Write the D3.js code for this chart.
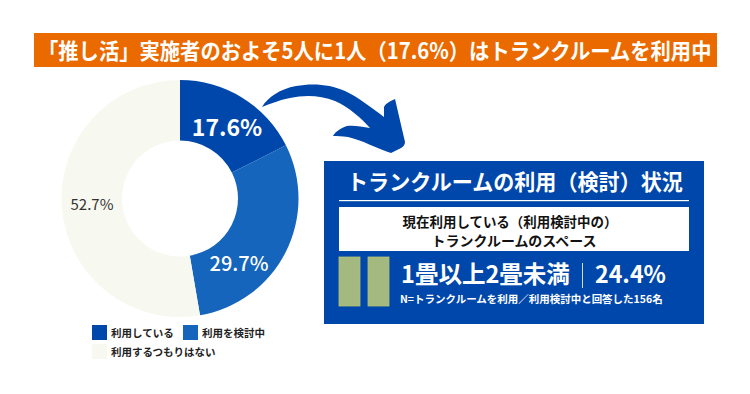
<!DOCTYPE html>
<html lang="ja"><head><meta charset="utf-8">
<script src="https://cdn.jsdelivr.net/npm/d3@7/dist/d3.min.js"></script>
<style>html,body{margin:0;padding:0;background:#fff}svg{display:block}text{font-family:"Noto Sans CJK JP","Noto Sans",sans-serif}</style>
</head><body><svg id="c" width="750" height="394"></svg>
<script>
const categories=["利用している","利用を検討中","利用するつもりはない"];
const values=[17.6,29.7,52.7];
const labels=["17.6%","29.7%","52.7%"];
const colors=["#0047ab","#1565bd","#f7f8ef"];
const titleText="「推し活」実施者のおよそ5人に1人（17.6%）はトランクルームを利用中";
const panelTitle="トランクルームの利用（検討）状況";
const boxLines=["現在利用している（利用検討中の）","トランクルームのスペース"];
const headline="1畳以上2畳未満";
const headlineValue="24.4%";
const noteText="N=トランクルームを利用／利用検討中と回答した156名";

const svg=d3.select("#c");
const blue="#0047ab";
// Text is fitted to a target width by scaling it horizontally about its anchor.
function txt(x,y,s,size,fill,weight,anchor,len){
  const t=svg.append("text").attr("font-size",size).attr("fill",fill)
    .attr("font-weight",weight).attr("text-anchor",anchor||"start").text(s);
  const k=len?len/t.node().getComputedTextLength():1;
  t.attr("transform",`translate(${x},${y}) scale(${k},1)`);
  return t;
}
svg.append("rect").attr("x",34).attr("y",33).attr("width",683).attr("height",34).attr("fill","#eb6a00");
txt(38,59,titleText,22,"#fff",700,"start",674);

// donut
const cx=180,cy=198.5,R=118.5,r=58;
const pie=d3.pie().sort(null).value(d=>d);
const arc=d3.arc().innerRadius(r).outerRadius(R);
const g=svg.append("g").attr("transform",`translate(${cx},${cy})`);
const arcs=pie(values);
g.selectAll("path").data(arcs).join("path").attr("d",arc).attr("fill",(d,i)=>colors[i]);
const labelPos=[[47,-71,23,700,"#fff"],[59,65,20,500,"#fff"],[-88,6,15,400,"#333"]];
arcs.forEach((d,i)=>{
  const p=labelPos[i];
  txt(cx+p[0],cy+p[1]+p[2]*0.36,labels[i],p[2],p[4],p[3],"middle");
});

// arrow
svg.append("path").attr("fill",blue).attr("d",
 "M262,107 C268,97 280,89 296,86 C312,83 330,84 345,91 C358,97 372,108 384,117 L384,107 C386,103 391,101 395,99 L405,142 C405,145 403,147 401,148 L391,153 C378,149 362,140 348,137 C342,136 337,136 333,136 C336,131 341,128 347,126 C354,125 362,127 370,128 C362,119 349,107 335,101 C320,95 304,95 290,98 C279,100 270,104 262,107 Z");

// panel
svg.append("rect").attr("x",324).attr("y",161).attr("width",380).attr("height",163).attr("fill",blue);
txt(347,190,panelTitle,21.5,"#fff",700,"start",336);
svg.append("rect").attr("x",339).attr("y",200).attr("width",350).attr("height",1.2).attr("fill","#fff");
svg.append("rect").attr("x",339).attr("y",207).attr("width",350).attr("height",44).attr("fill","#fff");
txt(510,227,boxLines[0],13.5,"#111",700,"middle",215);
txt(514,245.5,boxLines[1],13.5,"#111",700,"middle",165);
[339,368].forEach(x=>svg.append("rect").attr("x",x).attr("y",257).attr("width",21).attr("height",49).attr("fill","#a3b97f").attr("stroke","#b4c072").attr("stroke-width",.8));
txt(401,283,headline,24,"#fff",700,"start",169);
svg.append("rect").attr("x",582).attr("y",263).attr("width",1).attr("height",25).attr("fill","#cfdcf2");
txt(595,283,headlineValue,24,"#fff",700,"start",71);
txt(400,303,noteText,10.5,"#fff",700,"start",263);

// legend
const lx=[92,183,92], ly=[325,325,344];
categories.forEach((c,i)=>{
  svg.append("rect").attr("x",lx[i]).attr("y",ly[i]).attr("width",15).attr("height",15).attr("fill",colors[i]);
  txt(lx[i]+19,ly[i]+11.5,c,10.5,"#222",700);
});
</script></body></html>
